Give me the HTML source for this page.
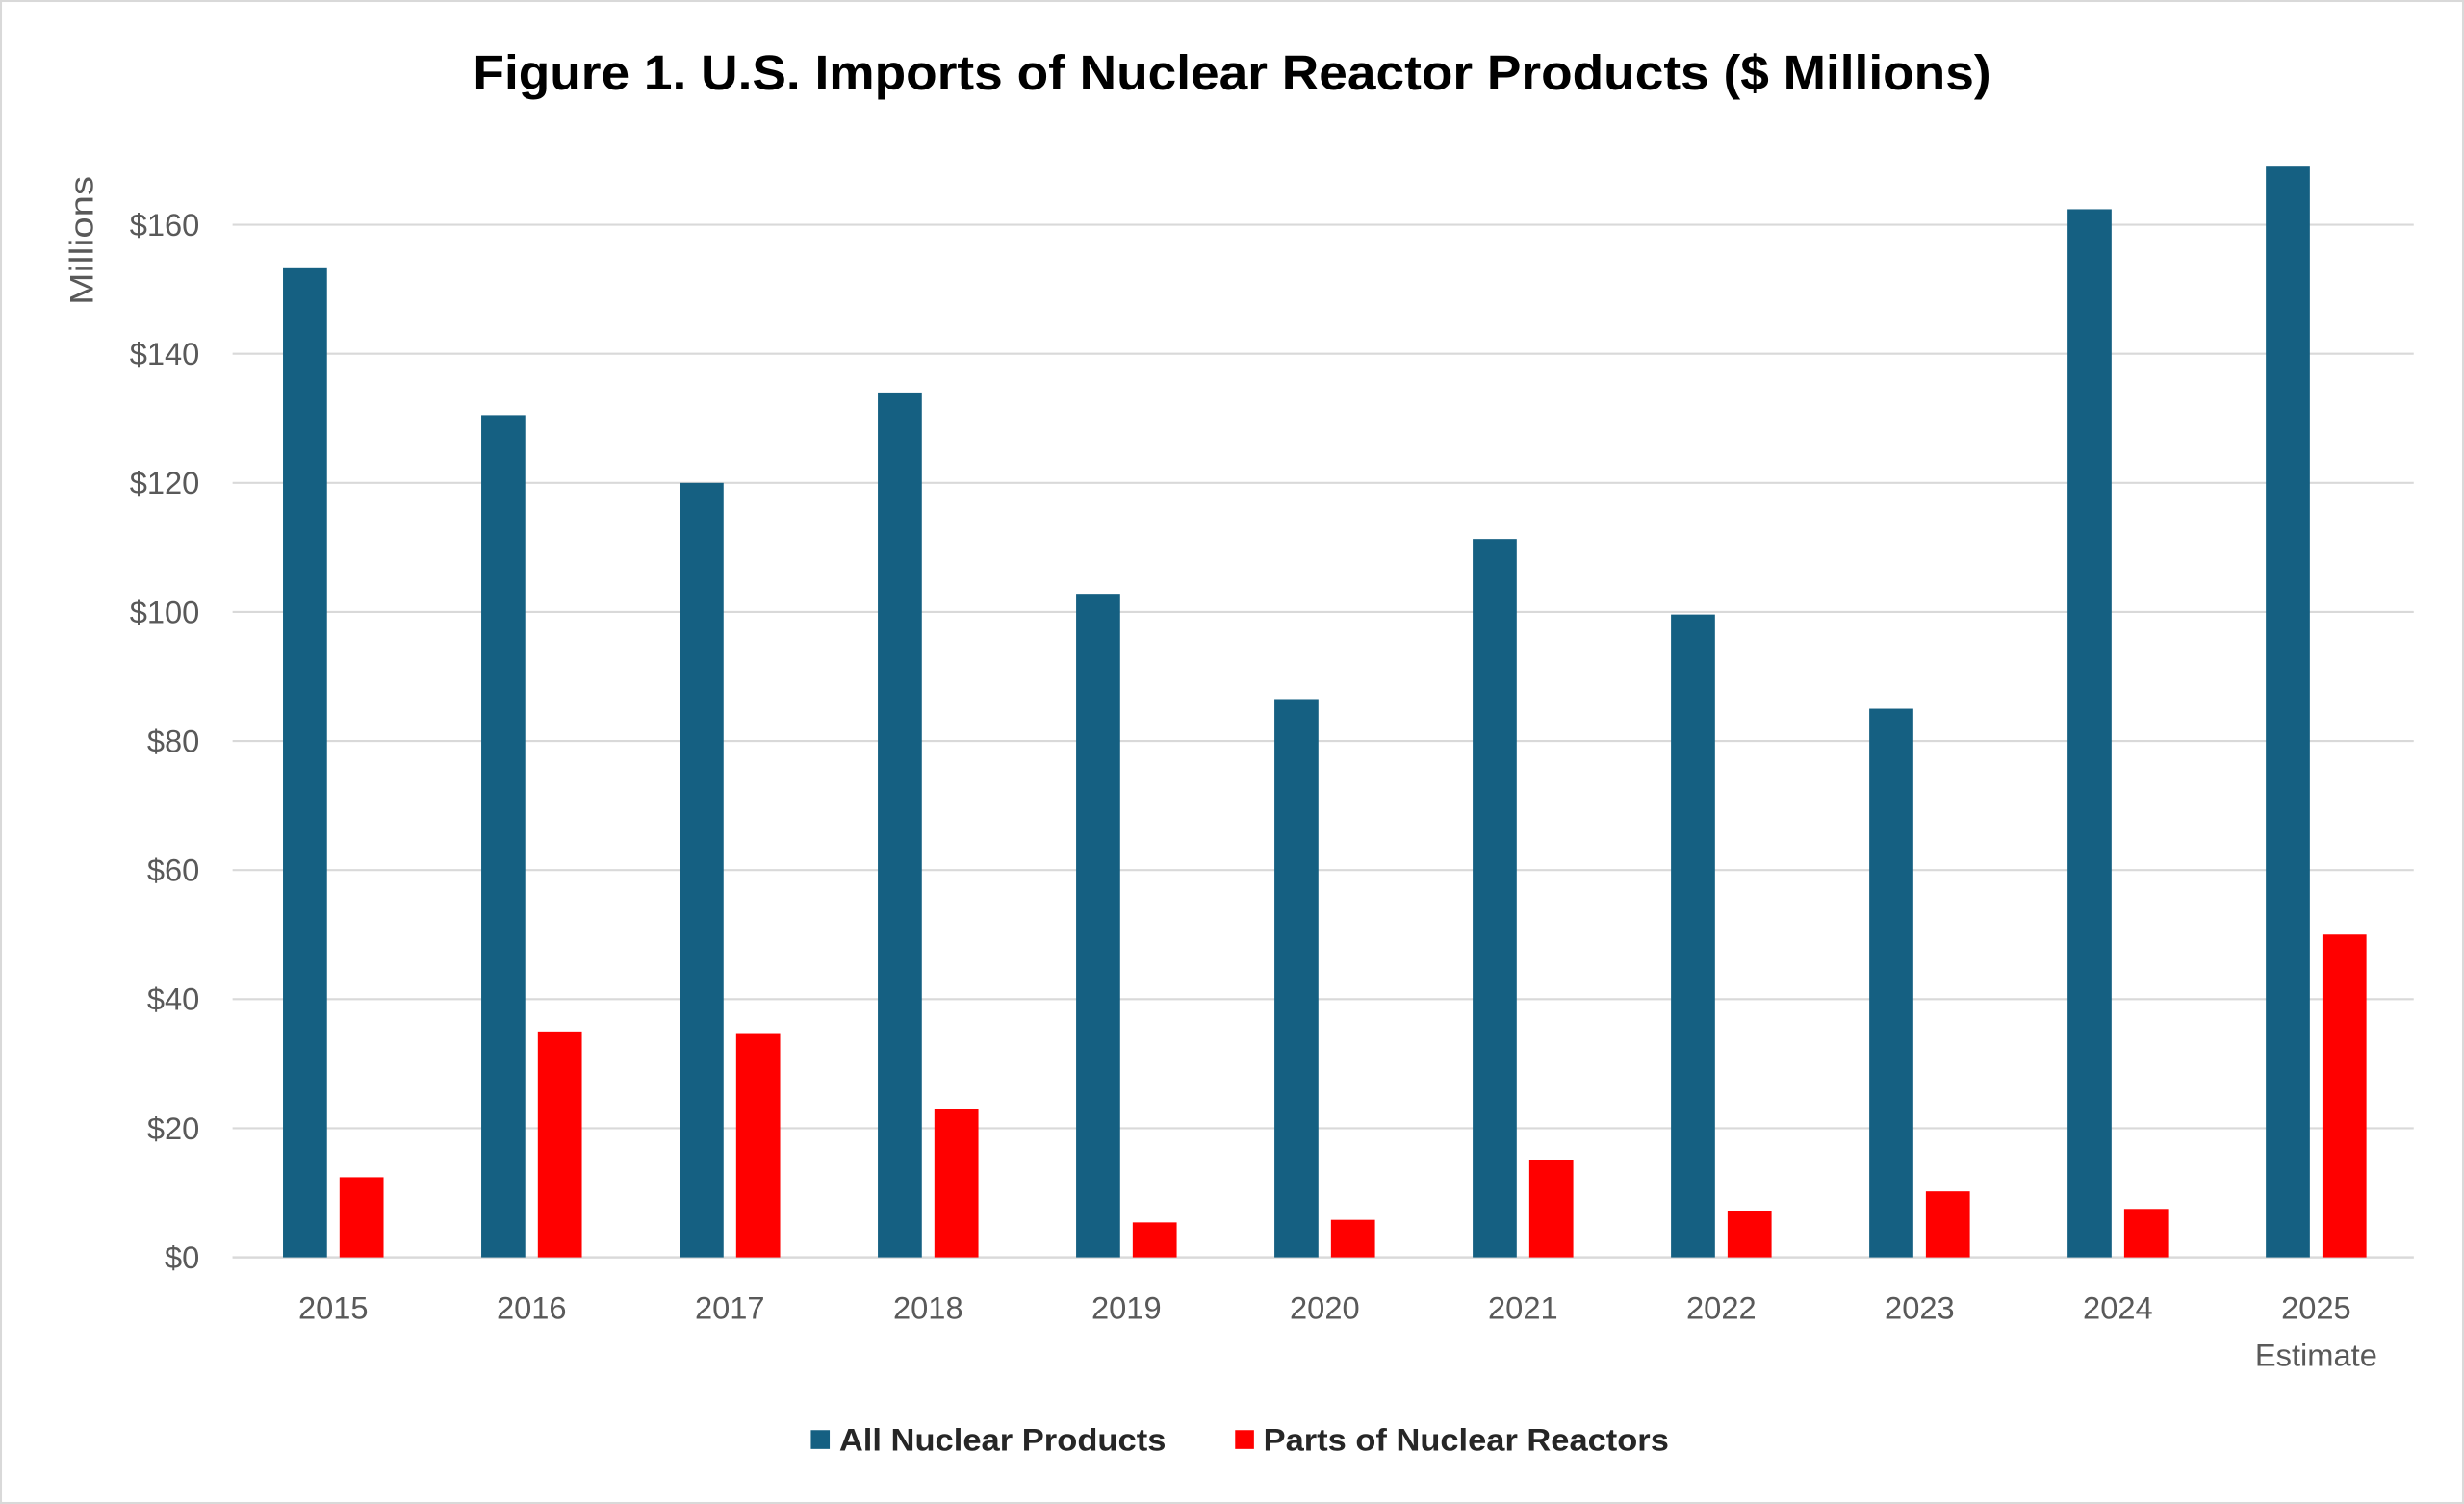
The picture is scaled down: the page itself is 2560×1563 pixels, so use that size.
<!DOCTYPE html>
<html><head><meta charset="utf-8">
<style>
html,body{margin:0;padding:0;background:#fff;}
svg{display:block;}
text{font-family:"Liberation Sans",sans-serif;}
</style></head>
<body>
<svg id="chart" width="2560" height="1563" viewBox="0 0 1568 957" preserveAspectRatio="none" xmlns="http://www.w3.org/2000/svg">
<rect x="0.5" y="0.5" width="1567" height="956" fill="#fff" stroke="#d9d9d9" stroke-width="1.5"/>
<text x="784" y="57" text-anchor="middle" font-size="31" font-weight="bold" fill="#000" textLength="966" lengthAdjust="spacingAndGlyphs">Figure 1. U.S. Imports of Nuclear Reactor Products ($ Millions)</text>
<text transform="translate(59,153) rotate(-90)" text-anchor="middle" font-size="21" fill="#595959" textLength="82" lengthAdjust="spacingAndGlyphs">Millions</text>
<g id="grid"></g><g id="bars"></g><g id="xlabels"></g>
<g>
<rect x="516" y="910" width="12" height="12" fill="#156082"/>
<text x="534" y="923" font-size="20" font-weight="bold" fill="#262626" textLength="208" lengthAdjust="spacingAndGlyphs">All Nuclear Products</text>
<rect x="786" y="910" width="12" height="12" fill="#ff0000"/>
<text x="804" y="923" font-size="20" font-weight="bold" fill="#262626" textLength="258" lengthAdjust="spacingAndGlyphs">Parts of Nuclear Reactors</text>
</g>
</svg>
<script>
const categories = ["2015","2016","2017","2018","2019","2020","2021","2022","2023","2024","2025"];
const allNuclear = [153.4,130.5,120,134,102.8,86.5,111.3,99.6,85,162.4,169];
const partsReactors = [12.4,35,34.6,22.9,5.4,5.8,15.1,7.1,10.2,7.5,50];
const yTicks = [0,20,40,60,80,100,120,140,160];
const yTickLabels = ["$0","$20","$40","$60","$80","$100","$120","$140","$160"];

const NS="http://www.w3.org/2000/svg";
const x0=148,x1=1536,yBase=800,pxPer=657/160;
const step=(x1-x0)/categories.length;
const y=v=>yBase-v*pxPer;
const xc=i=>x0+1+step*(i+0.5);
function mk(t,a){const e=document.createElementNS(NS,t);for(const k in a)e.setAttribute(k,a[k]);return e;}
const grid=document.getElementById('grid'),bars=document.getElementById('bars'),xl=document.getElementById('xlabels');
yTicks.forEach((v,i)=>{
  const l=mk('line',{x1:x0,x2:x1,y1:y(v),y2:y(v),stroke:'#d9d9d9','stroke-width':1.3});
  
  
  grid.appendChild(l);
  const t=mk('text',{x:127,y:y(v)+7,'text-anchor':'end','font-size':20,fill:'#595959'});
  t.textContent=yTickLabels[i];
  
  
  grid.appendChild(t);
});
const bw=28,gap=8;
categories.forEach((c,i)=>{
  const cx=xc(i);
  const b=mk('rect',{x:cx-gap/2-bw,y:y(allNuclear[i]),width:bw,height:allNuclear[i]*pxPer,fill:'#156082'});
  
  
  bars.appendChild(b);
  const r=mk('rect',{x:cx+gap/2,y:y(partsReactors[i]),width:bw,height:partsReactors[i]*pxPer,fill:'#ff0000'});
  
  
  bars.appendChild(r);
  const t=mk('text',{x:cx,y:839,'text-anchor':'middle','font-size':20,fill:'#595959'});
  t.textContent=c;
  
  
  xl.appendChild(t);
  if(i===categories.length-1){
    const e=mk('text',{x:cx,y:869,'text-anchor':'middle','font-size':20,fill:'#595959'});
    e.textContent='Estimate';
    
    
    xl.appendChild(e);
  }
});
const ax=mk('line',{x1:x0,x2:x1,y1:yBase,y2:yBase,stroke:'#d9d9d9','stroke-width':1.5});


grid.appendChild(ax);
</script>
</body></html>
